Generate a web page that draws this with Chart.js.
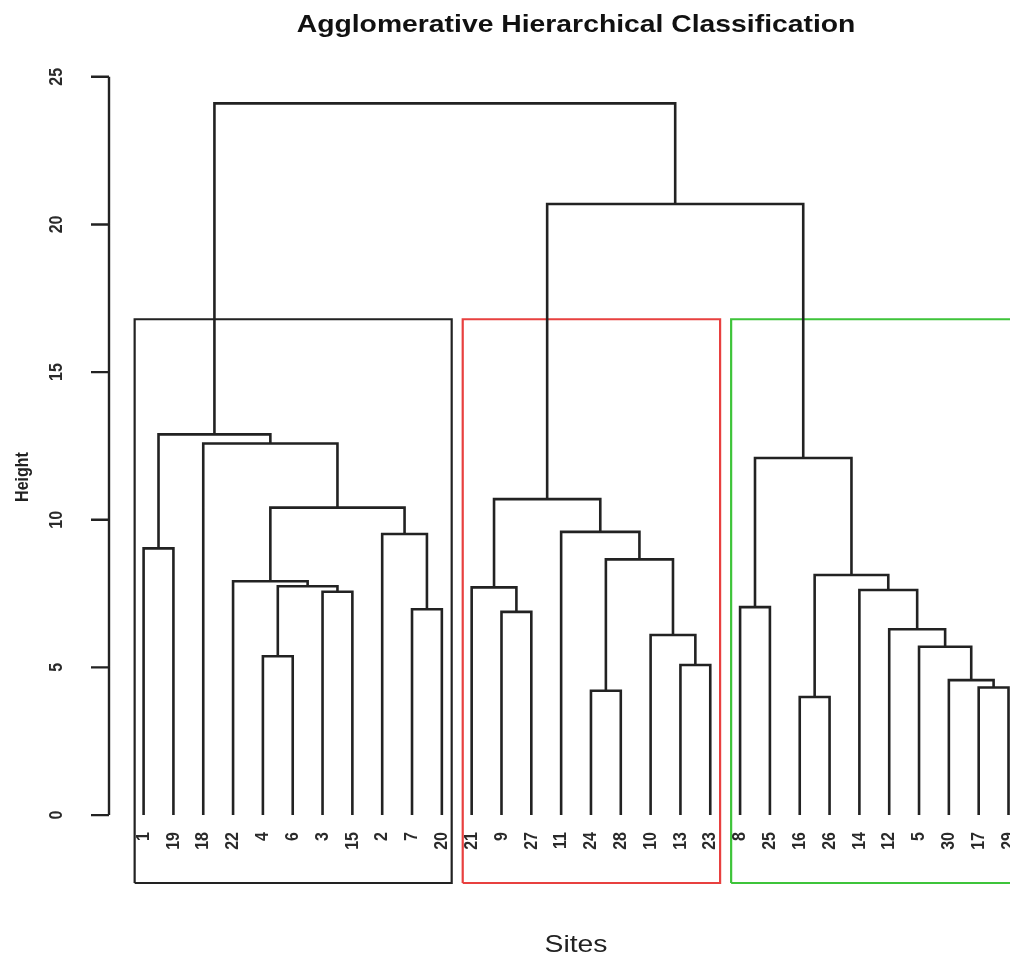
<!DOCTYPE html>
<html>
<head>
<meta charset="utf-8">
<title>Agglomerative Hierarchical Classification</title>
<script src="https://cdn.jsdelivr.net/npm/chart.js@4.4.1/dist/chart.umd.min.js"></script>
<style>
  * { margin: 0; padding: 0; box-sizing: border-box; }
  body { background: #fff; width: 1010px; height: 961px; overflow: hidden; }
  canvas { display: block; }
</style>
</head>
<body>
<canvas id="dendro" width="1010" height="961"></canvas>
<script>
// leaf order along the x axis (site numbers)
const leafOrder = [1, 19, 18, 22, 4, 6, 3, 15, 2, 7, 20, 21, 9, 27, 11, 24, 28, 10, 13, 23, 8, 25, 16, 26, 14, 12, 5, 30, 17, 29];

// merge table, R style: negative = site, positive = earlier merge step (1-based)
const mergeLeft  = [-16, -24, -17, -30, -13, -4, -5, -10, -12, -9, -7, -8, -3, -14, -21, 6, -22, 1, 2, -1, -2, -11, 17, 15, 12, -18, 20, 24, 27];
const mergeRight = [-26, -28, -29, 3, -23, -6, 4, 5, 7, -27, -20, -25, -15, 9, 10, 13, 16, 14, 8, -19, 11, 19, 21, 22, 18, 23, 26, 25, 28];
const mergeHeight = [4.00, 4.21, 4.32, 4.57, 5.08, 5.38, 5.70, 6.10, 6.29, 6.88, 6.97, 7.04, 7.56, 7.62, 7.71, 7.75, 7.92, 8.13, 8.66, 9.03, 9.52, 9.59, 10.41, 10.70, 12.09, 12.58, 12.89, 20.69, 24.10];

// rect.hclust(k = 3)
const clusterSizes = [11, 9, 10];
const clusterColors = ['#222222', '#e8403f', '#3ec43a'];

const yTicks = [0, 5, 10, 15, 20, 25];

const titleText = 'Agglomerative Hierarchical Classification';
const xLabel = 'Sites';
const yLabel = 'Height';

// plot ranges (R pads x by 4%, the right side of the picture is cut off)
const nLeaves = leafOrder.length;
const xMin = 1 - 0.04 * (nLeaves - 1);
const xMaxR = nLeaves + 0.04 * (nLeaves - 1);
const xMax = 30.05;
const yMin = -2.3;
const yMax = 25.5;

const TEXT_STRETCH = 1.18;
const FONT = '"Liberation Sans", Arial, sans-serif';
const LINE_COLOR = '#222';

// x position of every leaf and every merge
const leafPos = {};
leafOrder.forEach((site, i) => { leafPos[site] = i + 1; });

const nodeX = [];
const nodeH = [];
function childX(c) { return c < 0 ? leafPos[-c] : nodeX[c - 1]; }
function childH(c) { return c < 0 ? 0 : nodeH[c - 1]; }

const datasets = [];
mergeHeight.forEach((h, i) => {
  const l = mergeLeft[i], r = mergeRight[i];
  const xl = childX(l), xr = childX(r);
  nodeX.push((xl + xr) / 2);
  nodeH.push(h);
  datasets.push({
    data: [
      {x: xl, y: childH(l)},
      {x: xl, y: h},
      {x: xr, y: h},
      {x: xr, y: childH(r)}
    ],
    showLine: true,
    borderColor: LINE_COLOR,
    borderWidth: 2.6,
    pointRadius: 0,
    fill: false,
    clip: false
  });
});

// cluster rectangles
const sortedH = mergeHeight.slice().sort((a, b) => b - a);
const rectTop = (sortedH[1] + sortedH[2]) / 2;
let start = 0;
clusterSizes.forEach((size, i) => {
  const x0 = start + 0.7, x1 = start + size + 0.33;
  datasets.push({
    data: [
      {x: x0, y: yMin},
      {x: x0, y: rectTop},
      {x: x1, y: rectTop},
      {x: x1, y: yMin},
      {x: x0, y: yMin}
    ],
    showLine: true,
    borderColor: clusterColors[i],
    borderWidth: 2.2,
    pointRadius: 0,
    fill: false,
    clip: false
  });
  start += size;
});

function drawText(ctx, text, px, py, font, align, baseline, rotate, color) {
  ctx.save();
  ctx.translate(px, py);
  ctx.scale(TEXT_STRETCH, 1);
  if (rotate) ctx.rotate(-Math.PI / 2);
  ctx.font = font;
  ctx.fillStyle = color || '#1c1c1c';
  ctx.textAlign = align;
  ctx.textBaseline = baseline;
  ctx.fillText(text, 0, 0);
  ctx.restore();
}

const rPlotDecor = {
  id: 'rPlotDecor',
  afterDraw(chart) {
    const {ctx, chartArea, scales: {x, y}} = chart;
    const axX = chartArea.left;

    // y axis with ticks
    ctx.save();
    ctx.strokeStyle = LINE_COLOR;
    ctx.lineWidth = 2.4;
    ctx.beginPath();
    ctx.moveTo(axX, y.getPixelForValue(yTicks[0]));
    ctx.lineTo(axX, y.getPixelForValue(yTicks[yTicks.length - 1]));
    yTicks.forEach(t => {
      const py = y.getPixelForValue(t);
      ctx.moveTo(axX, py);
      ctx.lineTo(axX - 18, py);
    });
    ctx.stroke();
    ctx.restore();

    yTicks.forEach(t => {
      drawText(ctx, String(t), axX - 52, y.getPixelForValue(t), 'bold 16px ' + FONT, 'center', 'middle', true, '#2a2a2a');
    });

    // leaf labels
    const labelY = y.getPixelForValue(0) + 17;
    leafOrder.forEach((site, i) => {
      drawText(ctx, String(site), x.getPixelForValue(i + 1), labelY, 'bold 16px ' + FONT, 'right', 'middle', true, '#2a2a2a');
    });

    const midX = (x.getPixelForValue(xMin) + x.getPixelForValue(xMaxR)) / 2;
    drawText(ctx, titleText, midX, 32, 'bold 24px ' + FONT, 'center', 'alphabetic', false, '#111');
    drawText(ctx, xLabel, midX, 952, '24px ' + FONT, 'center', 'alphabetic', false, '#222');
    drawText(ctx, yLabel, 23, 477, 'bold 16px ' + FONT, 'center', 'middle', true, '#222');
  }
};

new Chart(document.getElementById('dendro'), {
  type: 'scatter',
  data: {datasets},
  options: {
    responsive: false,
    animation: false,
    events: [],
    layout: {padding: {left: 109, right: 0, top: 62, bottom: 78}},
    plugins: {
      legend: {display: false},
      tooltip: {enabled: false},
      title: {display: false}
    },
    scales: {
      x: {type: 'linear', display: false, min: xMin, max: xMax},
      y: {type: 'linear', display: false, min: yMin, max: yMax}
    }
  },
  plugins: [rPlotDecor]
});
</script>
</body>
</html>
